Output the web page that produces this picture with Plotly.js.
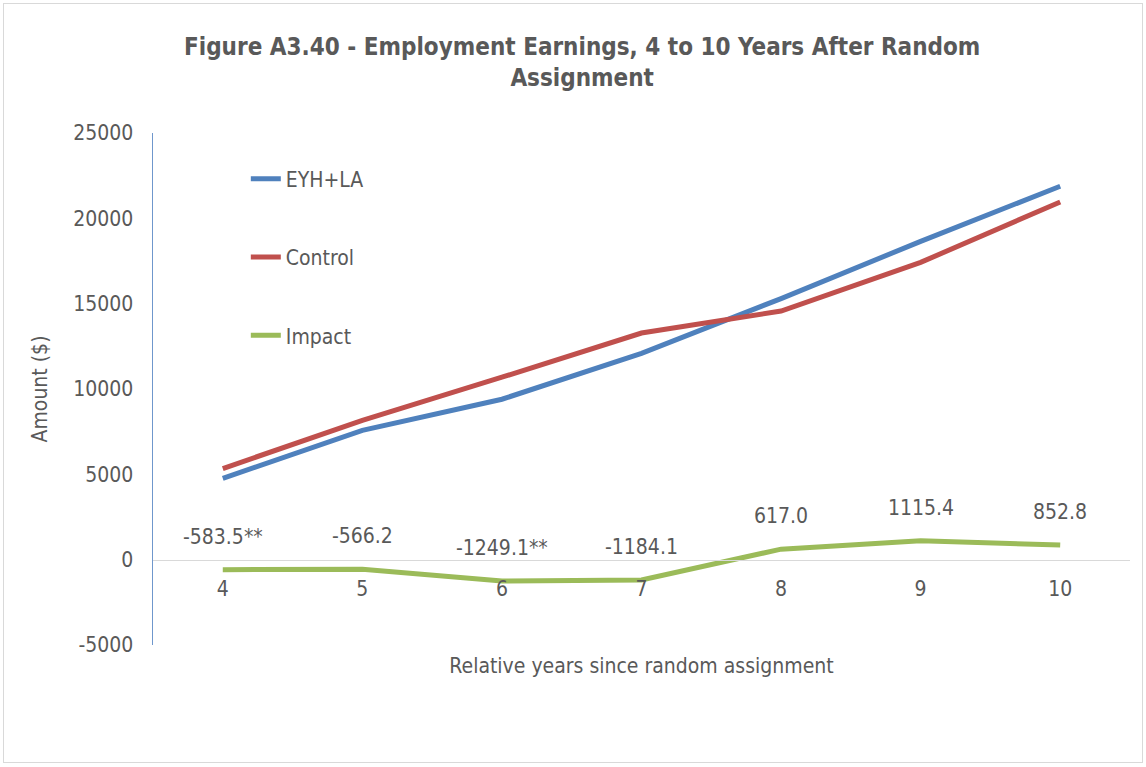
<!DOCTYPE html>
<html>
<head>
<meta charset="utf-8">
<script src="https://cdn.plot.ly/plotly-3.0.1.min.js"></script>
<style>
  html, body { margin: 0; padding: 0; background: #ffffff; }
  #wrap { position: relative; width: 1146px; height: 767px; }
  #chart { position: absolute; left: 0; top: 0; width: 1146px; height: 767px; }
  #frame { position: absolute; left: 3px; top: 3px; width: 1138px; height: 758px;
           border: 1.5px solid #d9d9d9; pointer-events: none; }
</style>
</head>
<body>
<div id="wrap">
  <div id="chart"></div>
  <div id="frame"></div>
</div>
<script>
// ---- data ----
const years = ["4", "5", "6", "7", "8", "9", "10"];
const eyhLa = [4760, 7580, 9400, 12090, 15300, 18650, 21880];
const control = [5340, 8160, 10690, 13280, 14570, 17420, 20960];
const impact = [-583.5, -566.2, -1249.1, -1184.1, 617.0, 1115.4, 852.8];
const impactLabels = ["-583.5**", "-566.2", "-1249.1**", "-1184.1", "617.0", "1115.4", "852.8"];
const yTicks = [-5000, 0, 5000, 10000, 15000, 20000, 25000];

const FONT = "'Liberation Sans Narrow', 'Arial Narrow', 'DejaVu Sans Condensed', 'Liberation Sans', sans-serif";
const GREY = "#595959";

const traces = [
  { x: years, y: eyhLa, name: "EYH+LA", type: "scatter", mode: "lines",
    line: { color: "#4f81bd", width: 5 }, legendgroup: "a" },
  { x: years, y: control, name: "Control", type: "scatter", mode: "lines",
    line: { color: "#c0504d", width: 5 }, legendgroup: "b" },
  { x: years, y: impact, name: "Impact", type: "scatter", mode: "lines",
    line: { color: "#9bbb59", width: 5 }, legendgroup: "c" }
];

// category axis: annotation x given as the category's index
const annotations = years.map((yr, i) => ({
  x: i, y: impact[i], xref: "x", yref: "y",
  text: impactLabels[i], showarrow: false, yshift: 33,
  font: { family: FONT, size: 21, color: GREY }
}));

const layout = {
  width: 1146, height: 767,
  paper_bgcolor: "#ffffff", plot_bgcolor: "#ffffff",
  margin: { l: 153, r: 16, t: 133, b: 122 },
  font: { family: FONT, color: GREY, size: 21 },
  title: {
    text: "<b>Figure A3.40 - Employment Earnings, 4 to 10 Years After Random<br>Assignment</b>",
    font: { family: FONT, size: 24, color: GREY },
    x: 0.508, xref: "container", xanchor: "center",
    y: 0.928, yref: "container", yanchor: "middle"
  },
  xaxis: {
    type: "category", range: [-0.5, 6.5],
    anchor: "free", position: 1 / 6,
    showline: true, linecolor: "#d9d9d9", linewidth: 1.5,
    showgrid: false, zeroline: false, ticks: "", ticklabelstandoff: 10,
    tickfont: { family: FONT, size: 21, color: GREY },
    title: { text: "Relative years since random assignment", standoff: 58,
             font: { family: FONT, size: 21, color: GREY } },
    fixedrange: true
  },
  yaxis: {
    range: [-5000, 25000], tickvals: yTicks, ticktext: yTicks.map(String),
    showline: true, linecolor: "#6f97cc", linewidth: 1.5,
    showgrid: false, zeroline: false, ticks: "", ticklabelstandoff: 14,
    tickfont: { family: FONT, size: 21, color: GREY },
    title: { text: "Amount ($)", standoff: 20,
             font: { family: FONT, size: 21, color: GREY } },
    fixedrange: true
  },
  showlegend: true,
  legend: {
    x: 0.095, y: 0.95, xanchor: "left", yanchor: "top",
    traceorder: "grouped", tracegroupgap: 48,
    bgcolor: "rgba(0,0,0,0)",
    font: { family: FONT, size: 21, color: GREY },
    itemwidth: 30
  },
  annotations: annotations
};

Plotly.newPlot("chart", traces, layout, { displayModeBar: false, staticPlot: true });
</script>
</body>
</html>
